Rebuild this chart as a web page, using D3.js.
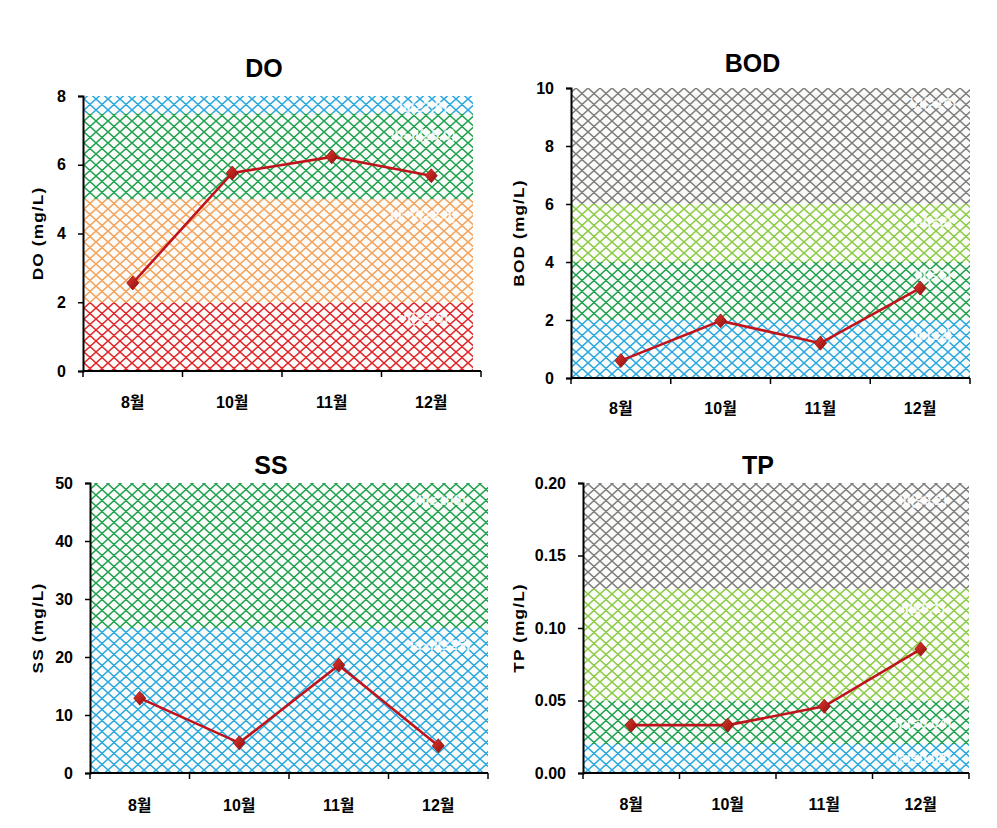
<!DOCTYPE html>
<html><head><meta charset="utf-8">
<script src="https://cdn.jsdelivr.net/npm/d3@7"></script>
<style>
html,body{margin:0;padding:0;background:#fff;}
text{font-family:"Liberation Sans",Arial,"Noto Sans CJK KR",sans-serif;}
</style></head>
<body>
<svg id="c" width="997" height="828"></svg>
<script>
const months = ["8월","10월","11월","12월"];

const doValues  = [2.56, 5.76, 6.23, 5.68];
const bodValues = [0.6, 1.97, 1.2, 3.1];
const ssValues  = [12.9, 5.2, 18.6, 4.7];
const tpValues  = [0.033, 0.033, 0.046, 0.0855];

const doTicks  = [0,2,4,6,8];
const bodTicks = [0,2,4,6,8,10];
const ssTicks  = [0,10,20,30,40,50];
const tpTicks  = [0,0.05,0.10,0.15,0.20];

// band limits (from, to), colour keys, labels
const doBands  = [[0,2,"red","VI(<2.0)"],[2,5,"orange","III~V(≥2.0)"],[5,7.5,"green","Ib~II(≥5.0)"],[7.5,8,"blue","Ia(≥7.5)"]];
const bodBands = [[0,2,"blue","Ib(≤2)"],[2,4,"green","III(≤5)"],[4,6,"lime","IV(≤8)"],[6,10,"grey","VI(>10)"]];
const ssBands  = [[0,25,"blue","Ia~II(≤25)"],[25,50,"green","III(≤100)"]];
const tpBands  = [[0,0.02,"blue","Ia(≤0.02)"],[0.02,0.05,"green","Ib(≤0.04)"],[0.05,0.127,"lime","II(≤0.1)"],[0.127,0.2,"grey","III(≤0.2)"]];

const colours = {red:"#e4262b", orange:"#f5a25a", green:"#1fa24f", blue:"#2aa9e0", lime:"#8ccb45", grey:"#7f7f7f"};

const svg = d3.select("#c");
const defs = svg.append("defs");
const TW = 12, TH = 11;
let hd = "";
for (let i=-1;i<=1;i++) for (let j=-1;j<=1;j++){
  const ox=i*TW, oy=j*TH;
  hd += `M${ox},${oy}L${ox+TW},${oy+TH}M${ox},${oy+TH}L${ox+TW},${oy}`;
}
Object.entries(colours).forEach(([k,c])=>{
  const p = defs.append("pattern").attr("id","h-"+k).attr("patternUnits","userSpaceOnUse")
    .attr("width",TW).attr("height",TH);
  p.append("rect").attr("width",TW).attr("height",TH).attr("fill","#fbfcfa");
  p.append("path").attr("d",hd).attr("stroke",c).attr("stroke-width",1.5).attr("fill","none");
});
const g0 = defs.append("linearGradient").attr("id","mk").attr("x1",0).attr("y1",0).attr("x2",1).attr("y2",1);
g0.append("stop").attr("offset","0").attr("stop-color","#e23a2e");
g0.append("stop").attr("offset","1").attr("stop-color","#8e0c0c");

const charts = [
  {title:"DO", ylab:"DO (mg/L)", vals:doValues, ticks:doTicks, bands:doBands, max:8, fmt:d3.format("d"),
   x0:83, x1:481, hatchR:473, yTop:96, yBot:371, titleY:77, labX:38, xlabY:408, bandLabX:423, bandLabY:[318,215,135,107]},
  {title:"BOD", ylab:"BOD (mg/L)", vals:bodValues, ticks:bodTicks, bands:bodBands, max:10, fmt:d3.format("d"),
   x0:571, x1:970, hatchR:970, yTop:88, yBot:378, titleY:72, labX:519, xlabY:414, bandLabX:933, bandLabY:[335,275,222,103]},
  {title:"SS", ylab:"SS (mg/L)", vals:ssValues, ticks:ssTicks, bands:ssBands, max:50, fmt:d3.format("d"),
   x0:90, x1:488, hatchR:488, yTop:483, yBot:773, titleY:474, labX:38, xlabY:811, bandLabX:440, bandLabY:[645,500]},
  {title:"TP", ylab:"TP (mg/L)", vals:tpValues, ticks:tpTicks, bands:tpBands, max:0.2, fmt:d3.format(".2f"),
   x0:583, x1:969, hatchR:969, yTop:483, yBot:773, titleY:474, labX:519, xlabY:810, bandLabX:923, bandLabY:[758,723,608,500]}
];

charts.forEach(ch=>{
  const g = svg.append("g");
  const x = d3.scaleBand().domain(months).range([ch.x0, ch.x1]).padding(0);
  const y = d3.scaleLinear().domain([0, ch.max]).range([ch.yBot, ch.yTop]);

  g.selectAll("rect.band").data(ch.bands).join("rect").attr("class","band")
    .attr("x", ch.x0).attr("width", ch.hatchR - ch.x0)
    .attr("y", d=>y(d[1])).attr("height", d=>y(d[0])-y(d[1]))
    .attr("fill", d=>"url(#h-"+d[2]+")");

  g.selectAll("text.bl").data(ch.bands).join("text").attr("class","bl")
    .attr("x", ch.bandLabX).attr("y",(d,i)=>ch.bandLabY[i]).attr("dy","0.35em")
    .attr("text-anchor","middle").attr("fill","#ffffff").attr("font-size",14).attr("font-weight","bold")
    .attr("opacity",0.85).text(d=>d[3]);

  const ya = g.append("g").attr("transform",`translate(${ch.x0},0)`)
    .call(d3.axisLeft(y).tickValues(ch.ticks).tickFormat(ch.fmt).tickSize(5).tickPadding(12));
  ya.select(".domain").attr("stroke","#000").attr("stroke-width",2);
  ya.selectAll(".tick line").attr("stroke","#000").attr("stroke-width",1.5);
  ya.selectAll(".tick text").attr("font-size",16).attr("font-weight","bold").attr("fill","#000")
    .attr("font-family",'"Liberation Sans",Arial,sans-serif');

  const xa = g.append("g").attr("transform",`translate(0,${ch.yBot})`);
  xa.append("line").attr("x1",ch.x0).attr("x2",ch.x1).attr("stroke","#000").attr("stroke-width",2);
  const bounds = months.map(m=>x(m)).concat([x(months[months.length-1])+x.bandwidth()]);
  xa.selectAll("line.tk").data(bounds).join("line").attr("class","tk")
    .attr("x1",d=>d).attr("x2",d=>d).attr("y1",0).attr("y2",6).attr("stroke","#000").attr("stroke-width",1.5);
  g.selectAll("text.xl").data(months).join("text").attr("class","xl")
    .attr("x",d=>x(d)+x.bandwidth()/2).attr("y",ch.xlabY).attr("text-anchor","middle")
    .attr("font-size",16).attr("font-weight","bold").attr("fill","#000").text(d=>d);

  g.append("text").attr("transform",`translate(${ch.labX},${(ch.yTop+ch.yBot)/2}) rotate(-90) scale(1.15,1)`)
    .attr("text-anchor","middle").attr("dy","0.35em").attr("font-size",15).attr("font-weight","bold")
    .attr("letter-spacing","1px").attr("fill","#000").text(ch.ylab);

  g.append("text").attr("x",(ch.x0+ch.x1)/2 - 18).attr("y",ch.titleY).attr("text-anchor","middle")
    .attr("font-size",25).attr("font-weight","bold").attr("fill","#000").text(ch.title);

  const line = d3.line().x((d,i)=>x(months[i])+x.bandwidth()/2).y(d=>y(d));
  g.append("path").datum(ch.vals).attr("d",line).attr("fill","none").attr("stroke","#c0141c").attr("stroke-width",2.6);
  g.selectAll("path.mk").data(ch.vals).join("path").attr("class","mk")
    .attr("transform",(d,i)=>`translate(${x(months[i])+x.bandwidth()/2},${y(d)})`)
    .attr("d","M0,-7L6,0L0,7L-6,0Z").attr("fill","url(#mk)").attr("stroke","#9a1010").attr("stroke-width",0.8);
});
</script>
</body></html>
